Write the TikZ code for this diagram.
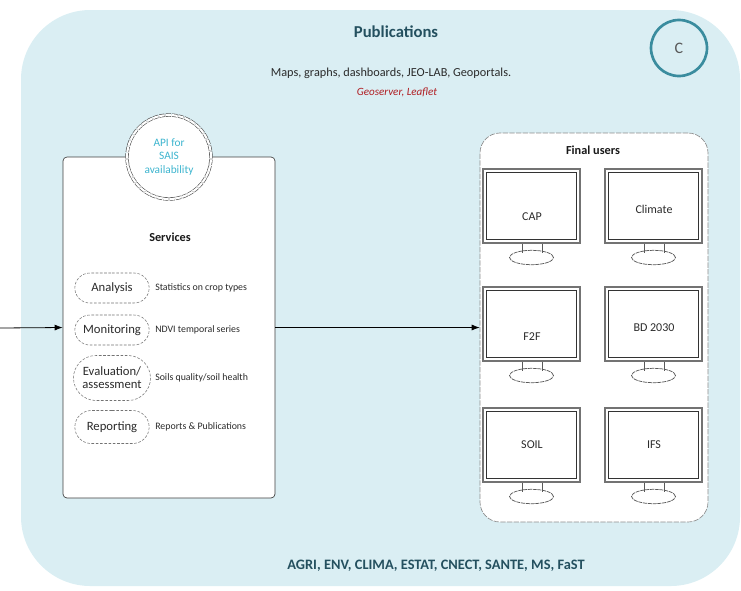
\documentclass[tikz,border=0pt]{standalone}
\usepackage{fontspec}
\setmainfont{Carlito}
\usetikzlibrary{shapes.misc,arrows.meta}
\definecolor{bgblue}{HTML}{DAEEF3}
\definecolor{titleteal}{HTML}{24505F}
\definecolor{ringteal}{HTML}{3A8C9E}
\definecolor{apicyan}{HTML}{3DB5CF}
\definecolor{darkred}{HTML}{B01E23}
\definecolor{txt}{HTML}{2B2B2B}
\newcommand\fsz[1]{\fontsize{#1}{1.25\dimexpr#1pt\relax}\selectfont}
\begin{document}
\begin{tikzpicture}[x=0.75pt,y=-0.75pt,
  bgpanel/.style={fill=bgblue},
  servbox/.style={draw=black!75, line width=0.5pt, fill=white, rounded corners=3pt, minimum width=159pt, minimum height=255.75pt, inner sep=0pt},
  userbox/.style={draw=black!45, dash pattern=on 4pt off 1pt, line width=0.5pt, fill=white, rounded corners=15pt, minimum width=171pt, minimum height=291.75pt, inner sep=0pt},
  pill/.style={rounded rectangle, draw=black!55, dash pattern=on 2pt off 1.2pt, line width=0.4pt, minimum width=57.75pt, minimum height=22.5pt, inner sep=1pt, align=center, font=\fsz{9.5}, text=txt},
  desc/.style={anchor=west, font=\fsz{7.4}, text=txt, inner sep=0pt},
  screenout/.style={draw=black!55, line width=1.1pt, minimum width=72.75pt, minimum height=55.5pt, inner sep=0pt, fill=white},
  screenin/.style={draw=black!80, line width=0.5pt, minimum width=67.5pt, minimum height=50.25pt, inner sep=0pt},
  monlabel/.style={font=\fsz{9}, text=txt, inner sep=0pt},
  stand/.style={draw=black!65, line width=0.55pt},
  conn/.style={draw=black, line width=0.6pt, -{Latex[length=6pt,width=4.5pt]}}
]
\useasboundingbox (0,0) rectangle (741,590);
\path[bgpanel, rounded corners=52pt] (21,10) rectangle (740,586);

% header
\node[font=\bfseries\fsz{12.5}, text=titleteal] (pub) at (396,32) {Publications};
\node[font=\fsz{9.2}, text=txt] (maps) at (391,73) {Maps, graphs, dashboards, JEO-LAB, Geoportals.};
\node[font=\itshape\fsz{8.3}, text=darkred] (geo) at (397,92) {Geoserver, Leaflet};
\node[circle, draw=ringteal, line width=2pt, minimum size=42pt, inner sep=0pt, font=\fsz{12}, text=black!65] (cbadge) at (679,48) {C};

% services
\node[servbox] (serv) at (169,327.5) {};
\node[circle, fill=white, draw=black!70, line width=0.45pt, double=white, double distance=1.6pt, dash pattern=on 4pt off 0.8pt, minimum size=63pt, inner sep=0pt, align=center, font=\fsz{8.5}, text=apicyan] (api) at (169,157) {API for\\[-0.5pt]SAIS\\[-0.5pt]availability};
\node[font=\bfseries\fsz{9.2}, text=black!90] (servt) at (170,237) {Services};

\node[pill] (p1) at (112,288) {Analysis};
\node[pill] (p2) at (112,330) {Monitoring};
\node[pill, minimum height=33.75pt, inner sep=0pt] (p3) at (112,378) {Evaluation/\\[-2pt]assessment};
\node[pill, minimum height=24.75pt] (p4) at (112,427) {Reporting};

\node[desc] (d1) at (155,288) {Statistics on crop types};
\node[desc] (d2) at (155,330) {NDVI temporal series};
\node[desc] (d3) at (155,378) {Soils quality/soil health};
\node[desc] (d4) at (155,427) {Reports \& Publications};

% final users
\node[userbox] (users) at (594,327.5) {};
\node[font=\bfseries\fsz{9.2}, text=black!90] (userst) at (593,150) {Final users};

\foreach \n/\X/\Y/\t/\ly in {cap/483/169/CAP/217, clim/605/169/Climate/209, ftf/483/287/F2F/337, bd/605/287/BD 2030/328, soil/483/408/SOIL/445, ifs/605/408/IFS/445}{
  \node[screenout] (\n) at ({\X+48.5},{\Y+37}) {};
  \node[screenin] (\n in) at (\n) {};
  \node[monlabel] (\n lab) at ({\X+49},\ly) {\t};
  \draw[stand] ({\X+39},{\Y+74.8}) -- ({\X+39},{\Y+84});
  \draw[stand] ({\X+59},{\Y+74.8}) -- ({\X+59},{\Y+84});
  \draw[stand, dash pattern=on 3pt off 0.6pt] ({\X+48.5},{\Y+88.5}) ellipse [x radius=16.5pt, y radius=5.4pt];
}

% connectors
\coordinate (src) at (0,328);
\draw[conn] (src) -- (serv.west);
\draw[conn] (serv.east) -- (users.west);

% bottom
\node[font=\bfseries\fsz{10.8}, text=titleteal] (dgs) at (436,566) {AGRI, ENV, CLIMA, ESTAT, CNECT, SANTE, MS, FaST};
\end{tikzpicture}
\end{document}
